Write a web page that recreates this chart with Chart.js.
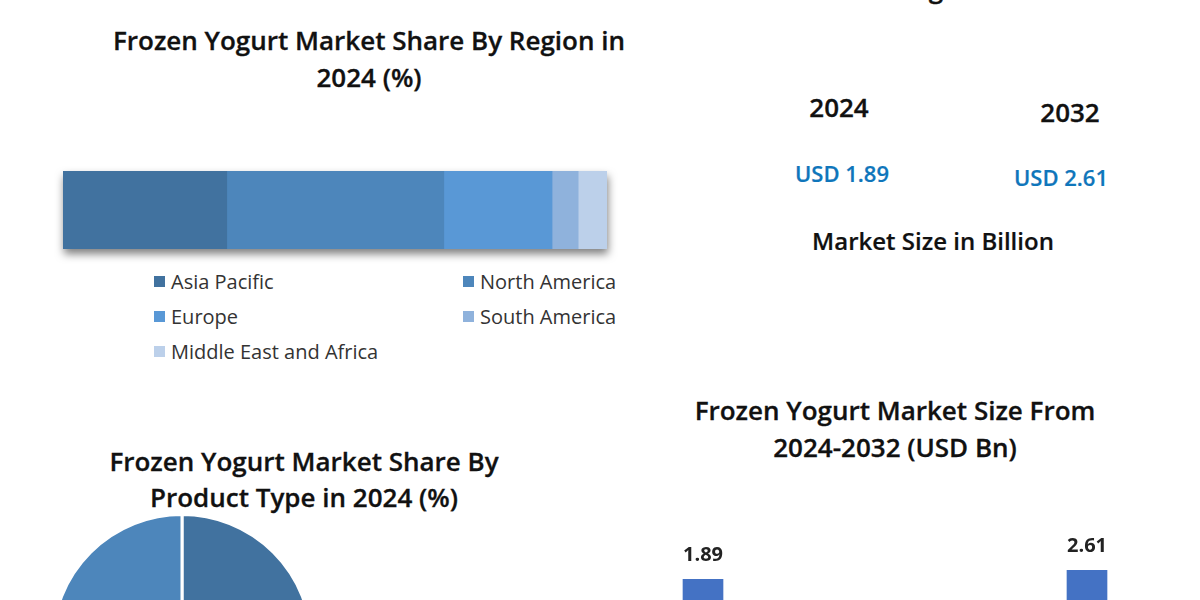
<!DOCTYPE html>
<html>
<head>
<meta charset="utf-8">
<title>Frozen Yogurt Market</title>
<script src="https://cdn.jsdelivr.net/npm/chart.js@4"></script>
<style>
    html, body { margin: 0; padding: 0; background: #fff; }
    body { position: relative; width: 1200px; height: 600px; overflow: hidden; font-family: "Open Sans", sans-serif; color: #111; }
    canvas { position: absolute; }
    .txt { position: absolute; transform: translate(-50%, -50%); white-space: nowrap; font-weight: 600; }
    .titulo { font-size: 26px; -webkit-text-stroke: 0.3px #111; }
    .ano { font-size: 26px; -webkit-text-stroke: 0.3px #111; }
    .usd { font-size: 22px; color: #0f76bb; -webkit-text-stroke: 0.2px #0f76bb; }
    .item { position: absolute; font-size: 20px; font-weight: 400; color: #333; line-height: 24px; padding-left: 17px; white-space: nowrap; }
    .item i { position: absolute; left: 0; top: 6px; width: 11px; height: 11px; }
    #barra { left: 63px; top: 171px; filter: drop-shadow(1px 5px 4px rgba(0, 0, 0, .5)); }
    #pizza { left: 51px; top: 513px; }
    #colunas { left: 511px; top: 528px; }
</style>
</head>
<body>
<div class="txt titulo" style="left:369px;top:40px">Frozen Yogurt Market Share By Region in</div>
<div class="txt titulo" style="left:369px;top:77px">2024 (%)</div>
<div class="txt titulo" style="left:304px;top:461px">Frozen Yogurt Market Share By</div>
<div class="txt titulo" style="left:304px;top:497px">Product Type in 2024 (%)</div>
<div class="txt titulo" style="left:895px;top:410px">Frozen Yogurt Market Size From</div>
<div class="txt titulo" style="left:895px;top:447px">2024-2032 (USD Bn)</div>
<div class="txt titulo" style="left:936px;top:-12px">g</div>
<div class="txt ano" style="left:839px;top:107px">2024</div>
<div class="txt ano" style="left:1070px;top:112px">2032</div>
<div class="txt usd" style="left:842px;top:173px">USD 1.89</div>
<div class="txt usd" style="left:1061px;top:177px">USD 2.61</div>
<div class="txt" style="left:933px;top:240px;font-size:24px;-webkit-text-stroke:0.2px #111">Market Size in Billion</div>

<div id="legenda"></div>
<canvas id="barra" width="544" height="78"></canvas>
<canvas id="pizza" width="262" height="262"></canvas>
<canvas id="colunas" width="768" height="75"></canvas>

<script>
// regioes (barra empilhada)
const regioes = ["Asia Pacific", "North America", "Europe", "South America", "Middle East and Africa"];
const shareRegiao = [30.1, 39.9, 19.9, 4.8, 5.3];
const coresRegiao = ["#41729f", "#4d86bb", "#5998d6", "#8fb2dc", "#bcd0ea"];

// tipo de produto (pizza, so a parte de cima aparece)
const tipos = ["Tipo A", "Tipo B"];
const shareTipo = [50, 50];
const coresTipo = ["#41729f", "#4d86bb"];

// tamanho do mercado
const anos = ["2024", "2032"];
const tamanhoMercado = [1.89, 2.61];

Chart.defaults.animation = false;
Chart.defaults.responsive = false;
Chart.defaults.devicePixelRatio = 1;
Chart.defaults.plugins.legend.display = false;
Chart.defaults.plugins.tooltip.enabled = false;

// legenda feita em html, duas colunas
const legenda = document.getElementById("legenda");
regioes.forEach((nome, i) => {
    const esquerda = i % 2 === 0 ? 154 : 463;
    const topo = 270 + Math.floor(i / 2) * 35;
    legenda.innerHTML += `<div class="item" style="left:${esquerda}px;top:${topo}px"><i style="background:${coresRegiao[i]}"></i>${nome}</div>`;
});

new Chart(document.getElementById("barra"), {
    type: "bar",
    data: {
        labels: ["2024"],
        datasets: regioes.map((nome, i) => ({
            label: nome,
            data: [shareRegiao[i]],
            backgroundColor: coresRegiao[i],
            barPercentage: 1,
            categoryPercentage: 1
        }))
    },
    options: {
        indexAxis: "y",
        layout: { padding: 0 },
        scales: {
            x: { stacked: true, min: 0, max: 100, display: false },
            y: { stacked: true, display: false }
        }
    }
});

new Chart(document.getElementById("pizza"), {
    type: "pie",
    data: {
        labels: tipos,
        datasets: [{
            data: shareTipo,
            backgroundColor: coresTipo,
            borderColor: "#fff",
            borderWidth: 3
        }]
    },
    options: { layout: { padding: 0 } }
});

// escreve o valor em cima de cada coluna
const rotuloColuna = {
    id: "rotuloColuna",
    afterDatasetsDraw(chart) {
        const ctx = chart.ctx;
        ctx.save();
        ctx.font = "700 20px 'Open Sans'";
        ctx.fillStyle = "#222";
        ctx.textAlign = "center";
        ctx.textBaseline = "middle";
        chart.getDatasetMeta(0).data.forEach((barra, i) => {
            ctx.fillText(tamanhoMercado[i].toFixed(2), barra.x, barra.y - 24);
        });
        ctx.restore();
    }
};

new Chart(document.getElementById("colunas"), {
    type: "bar",
    data: {
        labels: anos,
        datasets: [{
            data: tamanhoMercado,
            backgroundColor: "#4472c4",
            barThickness: 40
        }]
    },
    options: {
        layout: { padding: 0 },
        scales: {
            x: { display: false },
            y: { display: false, min: 0, max: 6 }
        }
    },
    plugins: [rotuloColuna]
});
</script>
</body>
</html>
